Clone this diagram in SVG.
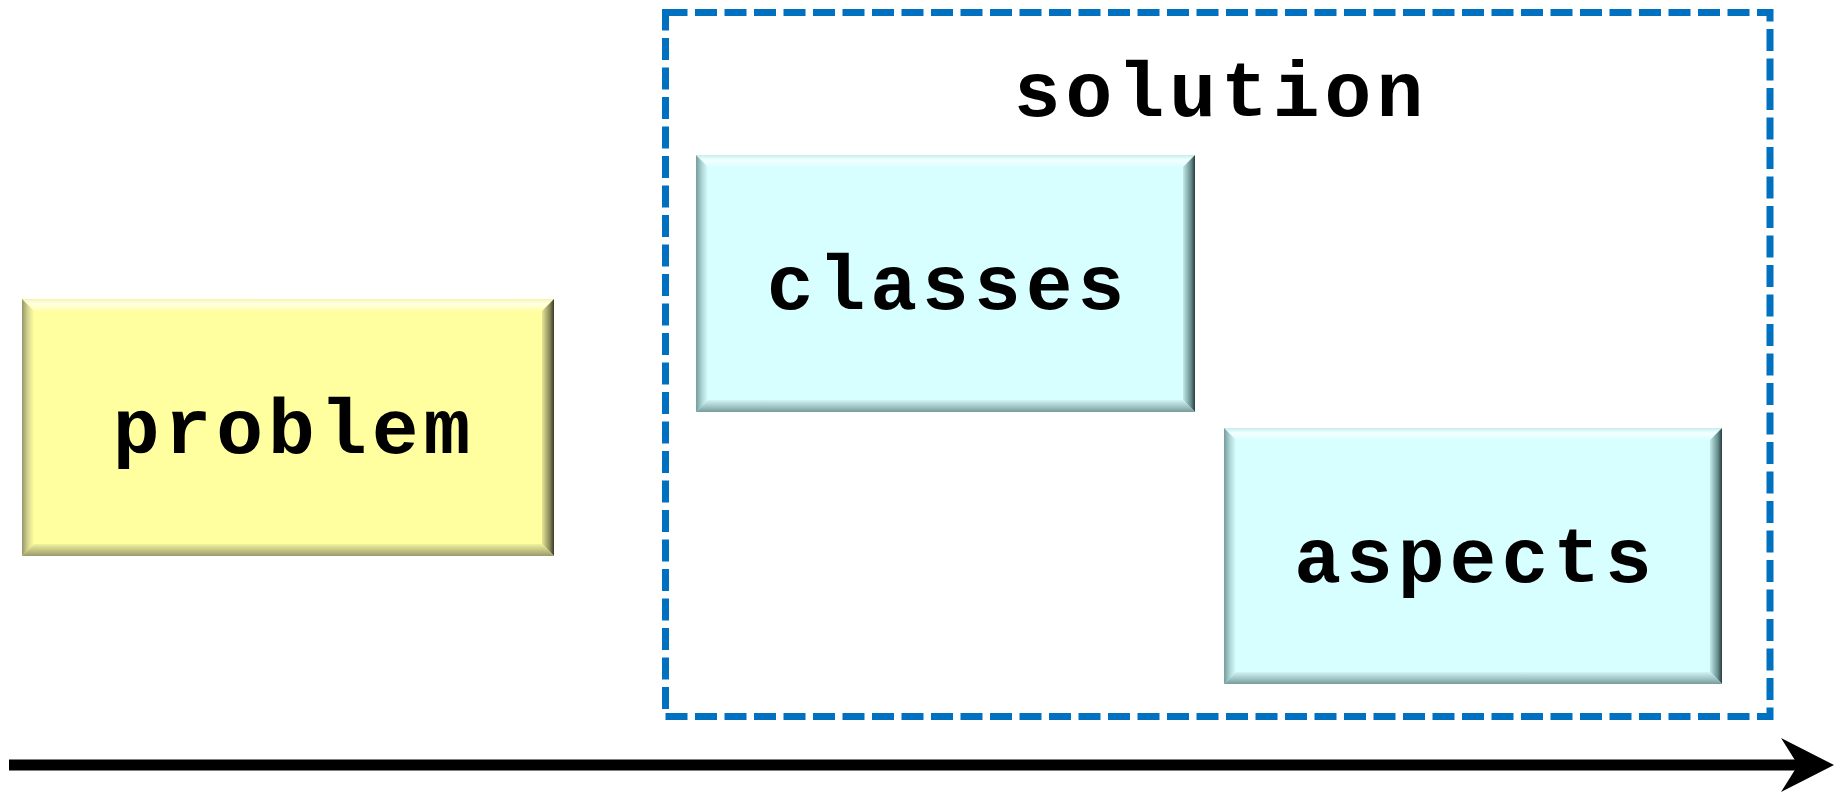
<svg xmlns="http://www.w3.org/2000/svg" width="1834" height="792" viewBox="0 0 1834 792">
  <defs>
    <!-- bevel shading, yellow -->
    <linearGradient id="yTop" x1="0" y1="0" x2="0" y2="1">
      <stop offset="0" stop-color="#F4F4B0"/>
      <stop offset="0.4" stop-color="#FFFFE6"/>
      <stop offset="1" stop-color="#FFFFAA"/>
    </linearGradient>
    <linearGradient id="yLeft" x1="0" y1="0" x2="1" y2="0">
      <stop offset="0" stop-color="#96966A"/>
      <stop offset="0.5" stop-color="#D6D690"/>
      <stop offset="1" stop-color="#FFFFA0"/>
    </linearGradient>
    <linearGradient id="yRight" x1="1" y1="0" x2="0" y2="0">
      <stop offset="0" stop-color="#3A3A26"/>
      <stop offset="0.35" stop-color="#88885A"/>
      <stop offset="1" stop-color="#E6E696"/>
    </linearGradient>
    <linearGradient id="yBottom" x1="0" y1="1" x2="0" y2="0">
      <stop offset="0" stop-color="#9A9A6A"/>
      <stop offset="0.5" stop-color="#C6C686"/>
      <stop offset="1" stop-color="#F2F29A"/>
    </linearGradient>
    <!-- bevel shading, cyan -->
    <linearGradient id="cTop" x1="0" y1="0" x2="0" y2="1">
      <stop offset="0" stop-color="#C4EEEE"/>
      <stop offset="0.4" stop-color="#F4FFFF"/>
      <stop offset="1" stop-color="#DCFFFF"/>
    </linearGradient>
    <linearGradient id="cLeft" x1="0" y1="0" x2="1" y2="0">
      <stop offset="0" stop-color="#769C9C"/>
      <stop offset="0.5" stop-color="#AED6D6"/>
      <stop offset="1" stop-color="#D8FFFF"/>
    </linearGradient>
    <linearGradient id="cRight" x1="1" y1="0" x2="0" y2="0">
      <stop offset="0" stop-color="#2A3E3E"/>
      <stop offset="0.35" stop-color="#688E8E"/>
      <stop offset="1" stop-color="#C2EAEA"/>
    </linearGradient>
    <linearGradient id="cBottom" x1="0" y1="1" x2="0" y2="0">
      <stop offset="0" stop-color="#789A9A"/>
      <stop offset="0.5" stop-color="#A6CACA"/>
      <stop offset="1" stop-color="#D0F4F4"/>
    </linearGradient>
    <style>
      .label { font-family: "Liberation Mono", "Courier New", monospace; font-weight: bold; font-size: 78px; letter-spacing: 5px; fill: #000000; text-anchor: middle; }
      .yellow .face { fill: #FFFFA0; }
      .yellow .top { fill: url(#yTop); }
      .yellow .left { fill: url(#yLeft); }
      .yellow .right { fill: url(#yRight); }
      .yellow .bottom { fill: url(#yBottom); }
      .cyan .face { fill: #D8FFFF; }
      .cyan .top { fill: url(#cTop); }
      .cyan .left { fill: url(#cLeft); }
      .cyan .right { fill: url(#cRight); }
      .cyan .bottom { fill: url(#cBottom); }
      .frame { fill: none; stroke: #0070C0; stroke-width: 7; stroke-dasharray: 22 7.5; }
      .axis { stroke: #000000; stroke-width: 11; fill: none; }
      .head { fill: #000000; }
    </style>
  </defs>

  <rect width="1834" height="792" fill="#FFFFFF"/>

  <!-- solution group frame -->
  <g id="solution">
    <rect class="frame" x="665.5" y="12.5" width="1104.5" height="704"/>
    <text class="label" x="1221" y="116">solution</text>
  </g>

  <!-- problem -->
  <g id="problem" class="yellow" transform="translate(22,299)">
    <rect class="face" x="0" y="0" width="532" height="257"/>
    <polygon class="top" points="0,0 532,0 520,12 12,12"/>
    <polygon class="left" points="0,0 12,12 12,245 0,257"/>
    <polygon class="right" points="532,0 532,257 520,245 520,12"/>
    <polygon class="bottom" points="0,257 12,245 520,245 532,257"/>
    <text class="label" x="272" y="154">problem</text>
  </g>

  <!-- classes -->
  <g id="classes" class="cyan" transform="translate(696,155)">
    <rect class="face" x="0" y="0" width="499" height="257"/>
    <polygon class="top" points="0,0 499,0 487,12 12,12"/>
    <polygon class="left" points="0,0 12,12 12,245 0,257"/>
    <polygon class="right" points="499,0 499,257 487,245 487,12"/>
    <polygon class="bottom" points="0,257 12,245 487,245 499,257"/>
    <text class="label" x="252" y="154">classes</text>
  </g>

  <!-- aspects -->
  <g id="aspects" class="cyan" transform="translate(1224,428)">
    <rect class="face" x="0" y="0" width="498" height="256"/>
    <polygon class="top" points="0,0 498,0 486,12 12,12"/>
    <polygon class="left" points="0,0 12,12 12,244 0,256"/>
    <polygon class="right" points="498,0 498,256 486,244 486,12"/>
    <polygon class="bottom" points="0,256 12,244 486,244 498,256"/>
    <text class="label" x="251.5" y="154">aspects</text>
  </g>

  <!-- time axis -->
  <g id="connectors">
    <line class="axis" x1="9" y1="765" x2="1800" y2="765"/>
    <polygon class="head" points="1834,765 1781,738 1798,765 1781,792"/>
  </g>
</svg>
